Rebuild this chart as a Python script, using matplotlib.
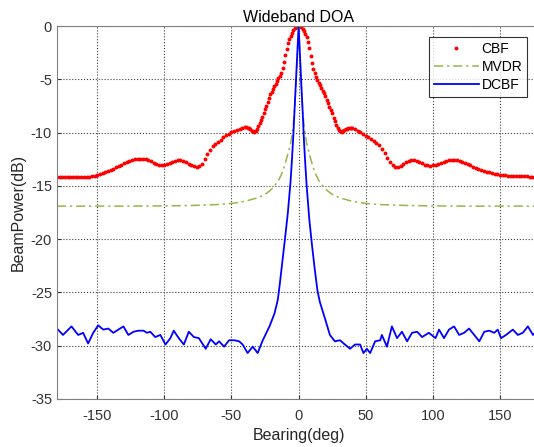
import numpy as np
import matplotlib
matplotlib.use('Agg')
import matplotlib.pyplot as plt

plt.rcParams['font.family'] = ['Liberation Sans', 'DejaVu Sans']
plt.rcParams['axes.unicode_minus'] = False

# CBF beam power (dB), 2 deg steps outside +-40, 1 deg steps inside
cbf_bearing = np.concatenate([np.arange(-180, -40, 2), np.arange(-40, 41, 1), np.arange(42, 181, 2)])
cbf_power = [
    -14.2, -14.2, -14.2, -14.2, -14.2, -14.2, -14.2, -14.2, -14.2, -14.2, -14.2,
    -14.18, -14.15, -14.1, -14.05, -13.98,
    -13.9, -13.82, -13.72, -13.62, -13.5,
    -13.38, -13.25, -13.12, -13.0, -12.88,
    -12.76, -12.66, -12.58, -12.52, -12.48,
    -12.46, -12.47, -12.52, -12.6, -12.7,
    -12.82, -12.93, -13.02, -13.06, -13.05,
    -12.98, -12.86, -12.72, -12.62, -12.57,
    -12.57, -12.63, -12.75, -12.9, -13.05,
    -13.17, -13.22, -13.15, -12.9, -12.5,
    -12.0, -11.6, -11.3, -11.05, -10.85,
    -10.65, -10.45, -10.25, -10.1, -9.98,
    -9.87, -9.75, -9.65, -9.55,
    # -40 .. 40
    -9.5, -9.5, -9.53, -9.6, -9.7, -9.8, -9.88, -9.9, -9.82, -9.65,
    -9.4, -9.1, -8.8, -8.5, -8.15, -7.8, -7.45, -7.1, -6.75, -6.4,
    -6.15, -5.9, -5.65, -5.4, -5.15, -4.9, -4.7, -4.4, -3.95, -3.4,
    -2.75, -2.1, -1.6, -1.2, -0.88, -0.6, -0.38, -0.2, -0.08, -0.02,
    0.0,
    -0.02, -0.09, -0.22, -0.42, -0.7, -1.05, -1.5, -2.05, -2.8, -3.45,
    -4.0, -4.4, -4.75, -5.05, -5.3, -5.55, -5.8, -6.05, -6.3, -6.6,
    -6.9, -7.25, -7.55, -7.85, -8.2, -8.6, -8.95, -9.3, -9.55, -9.75,
    -9.85, -9.9, -9.85, -9.78, -9.7, -9.65, -9.6, -9.58, -9.58, -9.6,
    # 42 .. 180
    -9.68, -9.8, -9.95, -10.1, -10.3,
    -10.45, -10.6, -10.75, -10.95, -11.2,
    -11.5, -11.9, -12.35, -12.75, -13.0,
    -13.18, -13.24, -13.15, -12.95, -12.78,
    -12.66, -12.6, -12.6, -12.65, -12.75,
    -12.88, -13.0, -13.08, -13.1, -13.08,
    -13.02, -12.92, -12.82, -12.72, -12.64,
    -12.58, -12.55, -12.55, -12.58, -12.65,
    -12.75, -12.86, -12.97, -13.08, -13.18,
    -13.28, -13.38, -13.48, -13.57, -13.66,
    -13.74, -13.81, -13.87, -13.92, -13.96,
    -13.99, -14.02, -14.04, -14.06, -14.08,
    -14.09, -14.1, -14.1, -14.11, -14.11,
    -14.12, -14.12, -14.12, -14.12, -14.12,
]

mvdr_bearing = [-180, -150, -130, -100, -80, -60, -50, -40, -30, -25, -20, -18, -15, -12, -10, -8, -6, -5,
                -4, -3, -2, -1, 0, 1, 2, 3, 4, 5, 6, 8, 10, 12, 15, 18, 20, 25, 30, 40, 50, 60, 80, 100,
                130, 150, 180]
mvdr_power = [-16.9, -16.9, -16.9, -16.88, -16.84, -16.75, -16.65, -16.45, -16.1, -15.8, -15.3, -15.0,
              -14.5, -13.7, -12.9, -12.0, -11.0, -10.3, -9.3, -7.8, -5.6, -2.8, 0.0, -2.8, -5.6, -7.8,
              -9.3, -10.3, -11.0, -12.0, -12.9, -13.7, -14.5, -15.0, -15.3, -15.8, -16.1, -16.45, -16.65,
              -16.75, -16.84, -16.88, -16.9, -16.9, -16.9]

dcbf_bearing = [-180, -175.5, -169.2, -164.2, -160.5, -156.8, -153, -149.3, -145.5, -141.8, -138, -134.3,
                -130.5, -126.8, -123, -119.3, -115.5, -113, -110.5, -106.8, -103, -99.2, -95.5, -93,
                -89.3, -85.5, -81.8, -78, -74.3, -69.2, -65.5, -61.7, -59.2, -55.5, -51.8, -48, -44.3,
                -41.7, -38, -34.2, -30.5, -26.7, -21.7, -18, -15.5,
                -14, -12, -10, -8, -6, -5, -4, -3, -2, -1, 0, 1, 2, 3, 4, 5, 6, 8, 10, 12, 14,
                15.8, 19.5, 23.3, 27, 30.8, 34.5, 38.3, 42, 45.8, 48.3, 50.8, 53.3, 57, 60.8, 62, 65.8,
                69.5, 73.3, 77, 80.8, 84.5, 88.3, 92, 97, 102, 104.6, 108.3, 112, 115.8, 119.6, 123.3,
                127, 130.8, 134.6, 138.3, 142, 145.8, 148.3, 150.8, 154.5, 159.6, 163.3, 167, 170.8,
                174.6, 180]
dcbf_power = [-28.4, -29.0, -28.2, -29.0, -28.8, -29.8, -28.8, -28.1, -28.5, -28.4, -28.8, -28.5,
              -28.2, -29.0, -28.7, -28.6, -28.6, -28.8, -28.7, -29.2, -29.0, -29.9, -29.3, -28.6,
              -29.3, -29.9, -28.7, -29.2, -29.3, -30.3, -29.4, -29.9, -29.6, -30.1, -29.5, -29.5, -29.6,
              -29.9, -30.7, -30.1, -30.7, -29.5, -28.2, -27.0, -25.7,
              -24.2, -22.0, -19.8, -17.5, -14.6, -12.6, -10.4, -7.8, -5.2, -2.6, 0.0, -2.7, -5.4, -8.0,
              -10.8, -13.0, -15.0, -18.2, -20.6, -22.8, -24.8,
              -25.9, -27.4, -29.0, -29.6, -29.5, -29.9, -30.3, -29.9, -29.9, -30.7, -30.3, -30.7, -29.6,
              -29.5, -29.0, -30.1, -28.2, -29.3, -28.7, -29.6, -28.8, -28.7, -29.2, -28.8, -29.3, -28.5,
              -29.3, -28.5, -28.2, -29.0, -28.8, -28.4, -29.0, -29.6, -28.7, -28.6, -28.8, -28.5, -29.3,
              -29.0, -28.5, -29.0, -28.8, -28.2, -29.0, -28.4]

fig = plt.figure(figsize=(5.34, 4.47), dpi=100)
ax = fig.add_axes([0.1067, 0.1078, 0.905, 0.8336])

ax.plot(cbf_bearing, cbf_power, '.', color='red', markersize=3.6, label='CBF')
ax.plot(mvdr_bearing, mvdr_power, color='#97b54b', linewidth=1.1,
        linestyle=(0, (6, 2.5, 1.5, 2.5)), label='MVDR')
ax.plot(dcbf_bearing, dcbf_power, color='#0000ff', linewidth=1.3, label='DCBF')

ax.set_xlim(-180, 180)
ax.set_ylim(-35, 0)
ax.set_xticks([-150, -100, -50, 0, 50, 100, 150])
ax.set_yticks(np.arange(-35, 1, 5))
ax.grid(True, linestyle=':', color='0.25', linewidth=0.8)
ax.tick_params(direction='in', labelsize=10.5, colors='#333333', length=3)
ax.tick_params(axis='x', pad=7)
for s in ax.spines.values():
    s.set_color('#808080')

ax.set_title('Wideband DOA', fontsize=11.5, pad=3)
ax.set_xlabel('Bearing(deg)', fontsize=11.5, color='#262626', labelpad=4)
ax.set_ylabel('BeamPower(dB)', fontsize=11.5, color='#262626', labelpad=4)

leg = ax.legend(loc='upper right', bbox_to_anchor=(527 / 534, 1 - 37 / 447),
                bbox_transform=fig.transFigure, borderaxespad=0, fancybox=False,
                edgecolor='black', fontsize=10, numpoints=1, handlelength=3.2,
                handletextpad=0.2, labelspacing=0.3, borderpad=0.35)
leg.get_frame().set_linewidth(0.8)

fig.savefig('out.png', dpi=100)
